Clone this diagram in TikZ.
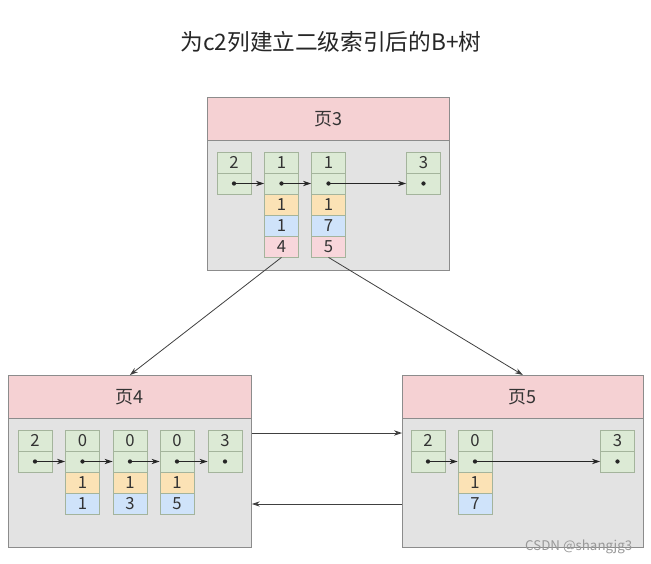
\documentclass[tikz,border=0pt]{standalone}
\usepackage{fontspec}
\setmainfont{Noto Sans CJK SC}
\usetikzlibrary{arrows.meta,calc}
\definecolor{gfill}{HTML}{DCEAD5}
\definecolor{ofill}{HTML}{FBE2B5}
\definecolor{bfill}{HTML}{CFE3FA}
\definecolor{pfill}{HTML}{F8D6DB}
\definecolor{cellline}{HTML}{A4B49C}
\definecolor{hfill}{HTML}{F5D1D3}
\definecolor{bodyfill}{HTML}{E3E3E3}
\definecolor{pageline}{HTML}{8C8C8C}
\definecolor{txt}{HTML}{333333}
\tikzset{
  cellbox/.style={draw=cellline, line width=0.6pt, minimum width=25.5pt, minimum height=15.75pt, inner sep=0pt, font=\fontsize{12.5}{13}\selectfont, text=txt},
  cg/.style={cellbox, fill=gfill},
  co/.style={cellbox, fill=ofill},
  cb/.style={cellbox, fill=bfill},
  cpk/.style={cellbox, fill=pfill},
  pagebody/.style={draw=pageline, line width=0.6pt, fill=bodyfill},
  pagehead/.style={draw=pageline, line width=0.6pt, fill=hfill, font=\fontsize{13.5}{15}\selectfont, text=txt},
  ptr/.style={-{Stealth[length=6pt,width=4pt]}, line width=0.7pt, draw=black!85},
  link/.style={-{Stealth[length=6pt,width=4pt]}, line width=0.6pt, draw=black!75},
  dotmark/.style={circle, fill=black!85, inner sep=0pt, minimum size=3.2pt}
}
\begin{document}
\begin{tikzpicture}[x=0.75pt,y=-0.75pt]
\fill[white] (0,0) rectangle (651,564);
\useasboundingbox (0,0) rectangle (651,564);
% title
\node[font=\fontsize{17}{19}\selectfont, text=black!85] (title) at (331,42) {为c2列建立二级索引后的B+树};

% page 3
\node[pagebody, minimum width=181.5pt, minimum height=129.75pt, anchor=north west] (p3) at (207,97) {};
\node[pagehead, minimum width=181.5pt, minimum height=32.25pt, anchor=north west] (p3h) at (207,97) {页3};
% page 4
\node[pagebody, minimum width=182.25pt, minimum height=129pt, anchor=north west] (p4) at (8,375) {};
\node[pagehead, minimum width=182.25pt, minimum height=32.25pt, anchor=north west] (p4h) at (8,375) {页4};
% page 5
\node[pagebody, minimum width=180.75pt, minimum height=129pt, anchor=north west] (p5) at (402,375) {};
\node[pagehead, minimum width=180.75pt, minimum height=32.25pt, anchor=north west] (p5h) at (402,375) {页5};

% page 3 records
\node[cg] (a1t) at (234,162.5) {2};
\node[cg] (a1p) at (234,183.5) {};
\node[cg] (a2t) at (281.5,162.5) {1};
\node[cg] (a2p) at (281.5,183.5) {};
\node[co] (a2o) at (281.5,204.5) {1};
\node[cb] (a2b) at (281.5,225.5) {1};
\node[cpk] (a2k) at (281.5,246.5) {4};
\node[cg] (a3t) at (328.5,162.5) {1};
\node[cg] (a3p) at (328.5,183.5) {};
\node[co] (a3o) at (328.5,204.5) {1};
\node[cb] (a3b) at (328.5,225.5) {7};
\node[cpk] (a3k) at (328.5,246.5) {5};
\node[cg] (a4t) at (423.5,162.5) {3};
\node[cg] (a4p) at (423.5,183.5) {};
\foreach \n in {a1p,a2p,a3p,a4p} \node[dotmark] at (\n.center) {};
\draw[ptr] (a1p.center) -- (a2p.west);
\draw[ptr] (a2p.center) -- (a3p.west);
\draw[ptr] (a3p.center) -- (a4p.west);

% page 4 records
\node[cg] (b1t) at (35,440.5) {2};
\node[cg] (b1p) at (35,461.5) {};
\node[cg] (b2t) at (82.5,440.5) {0};
\node[cg] (b2p) at (82.5,461.5) {};
\node[co] (b2o) at (82.5,482.5) {1};
\node[cb] (b2b) at (82.5,503.5) {1};
\node[cg] (b3t) at (130,440.5) {0};
\node[cg] (b3p) at (130,461.5) {};
\node[co] (b3o) at (130,482.5) {1};
\node[cb] (b3b) at (130,503.5) {3};
\node[cg] (b4t) at (177,440.5) {0};
\node[cg] (b4p) at (177,461.5) {};
\node[co] (b4o) at (177,482.5) {1};
\node[cb] (b4b) at (177,503.5) {5};
\node[cg] (b5t) at (225,440.5) {3};
\node[cg] (b5p) at (225,461.5) {};
\foreach \n in {b1p,b2p,b3p,b4p,b5p} \node[dotmark] at (\n.center) {};
\draw[ptr] (b1p.center) -- (b2p.west);
\draw[ptr] (b2p.center) -- (b3p.west);
\draw[ptr] (b3p.center) -- (b4p.west);
\draw[ptr] (b4p.center) -- (b5p.west);

% page 5 records
\node[cg] (c1t) at (428,440.5) {2};
\node[cg] (c1p) at (428,461.5) {};
\node[cg] (c2t) at (475,440.5) {0};
\node[cg] (c2p) at (475,461.5) {};
\node[co] (c2o) at (475,482.5) {1};
\node[cb] (c2b) at (475,503.5) {7};
\node[cg] (c3t) at (617.5,440.5) {3};
\node[cg] (c3p) at (617.5,461.5) {};
\foreach \n in {c1p,c2p,c3p} \node[dotmark] at (\n.center) {};
\draw[ptr] (c1p.center) -- (c2p.west);
\draw[ptr] (c2p.center) -- (c3p.west);

% links between pages
\coordinate (yA) at (0,433);
\coordinate (yB) at (0,504);
\draw[link] (a2k.south) -- (p4.north);
\draw[link] (a3k.south) -- (p5.north);
\draw[link] (p4.east |- yA) -- (p5.west |- yA);
\draw[link] (p5.west |- yB) -- (p4.east |- yB);

% watermark
\node[font=\fontsize{10}{12}\selectfont, text=black!40, anchor=east] (wm) at (637,547) {CSDN @shangjg3};
\end{tikzpicture}
\end{document}
